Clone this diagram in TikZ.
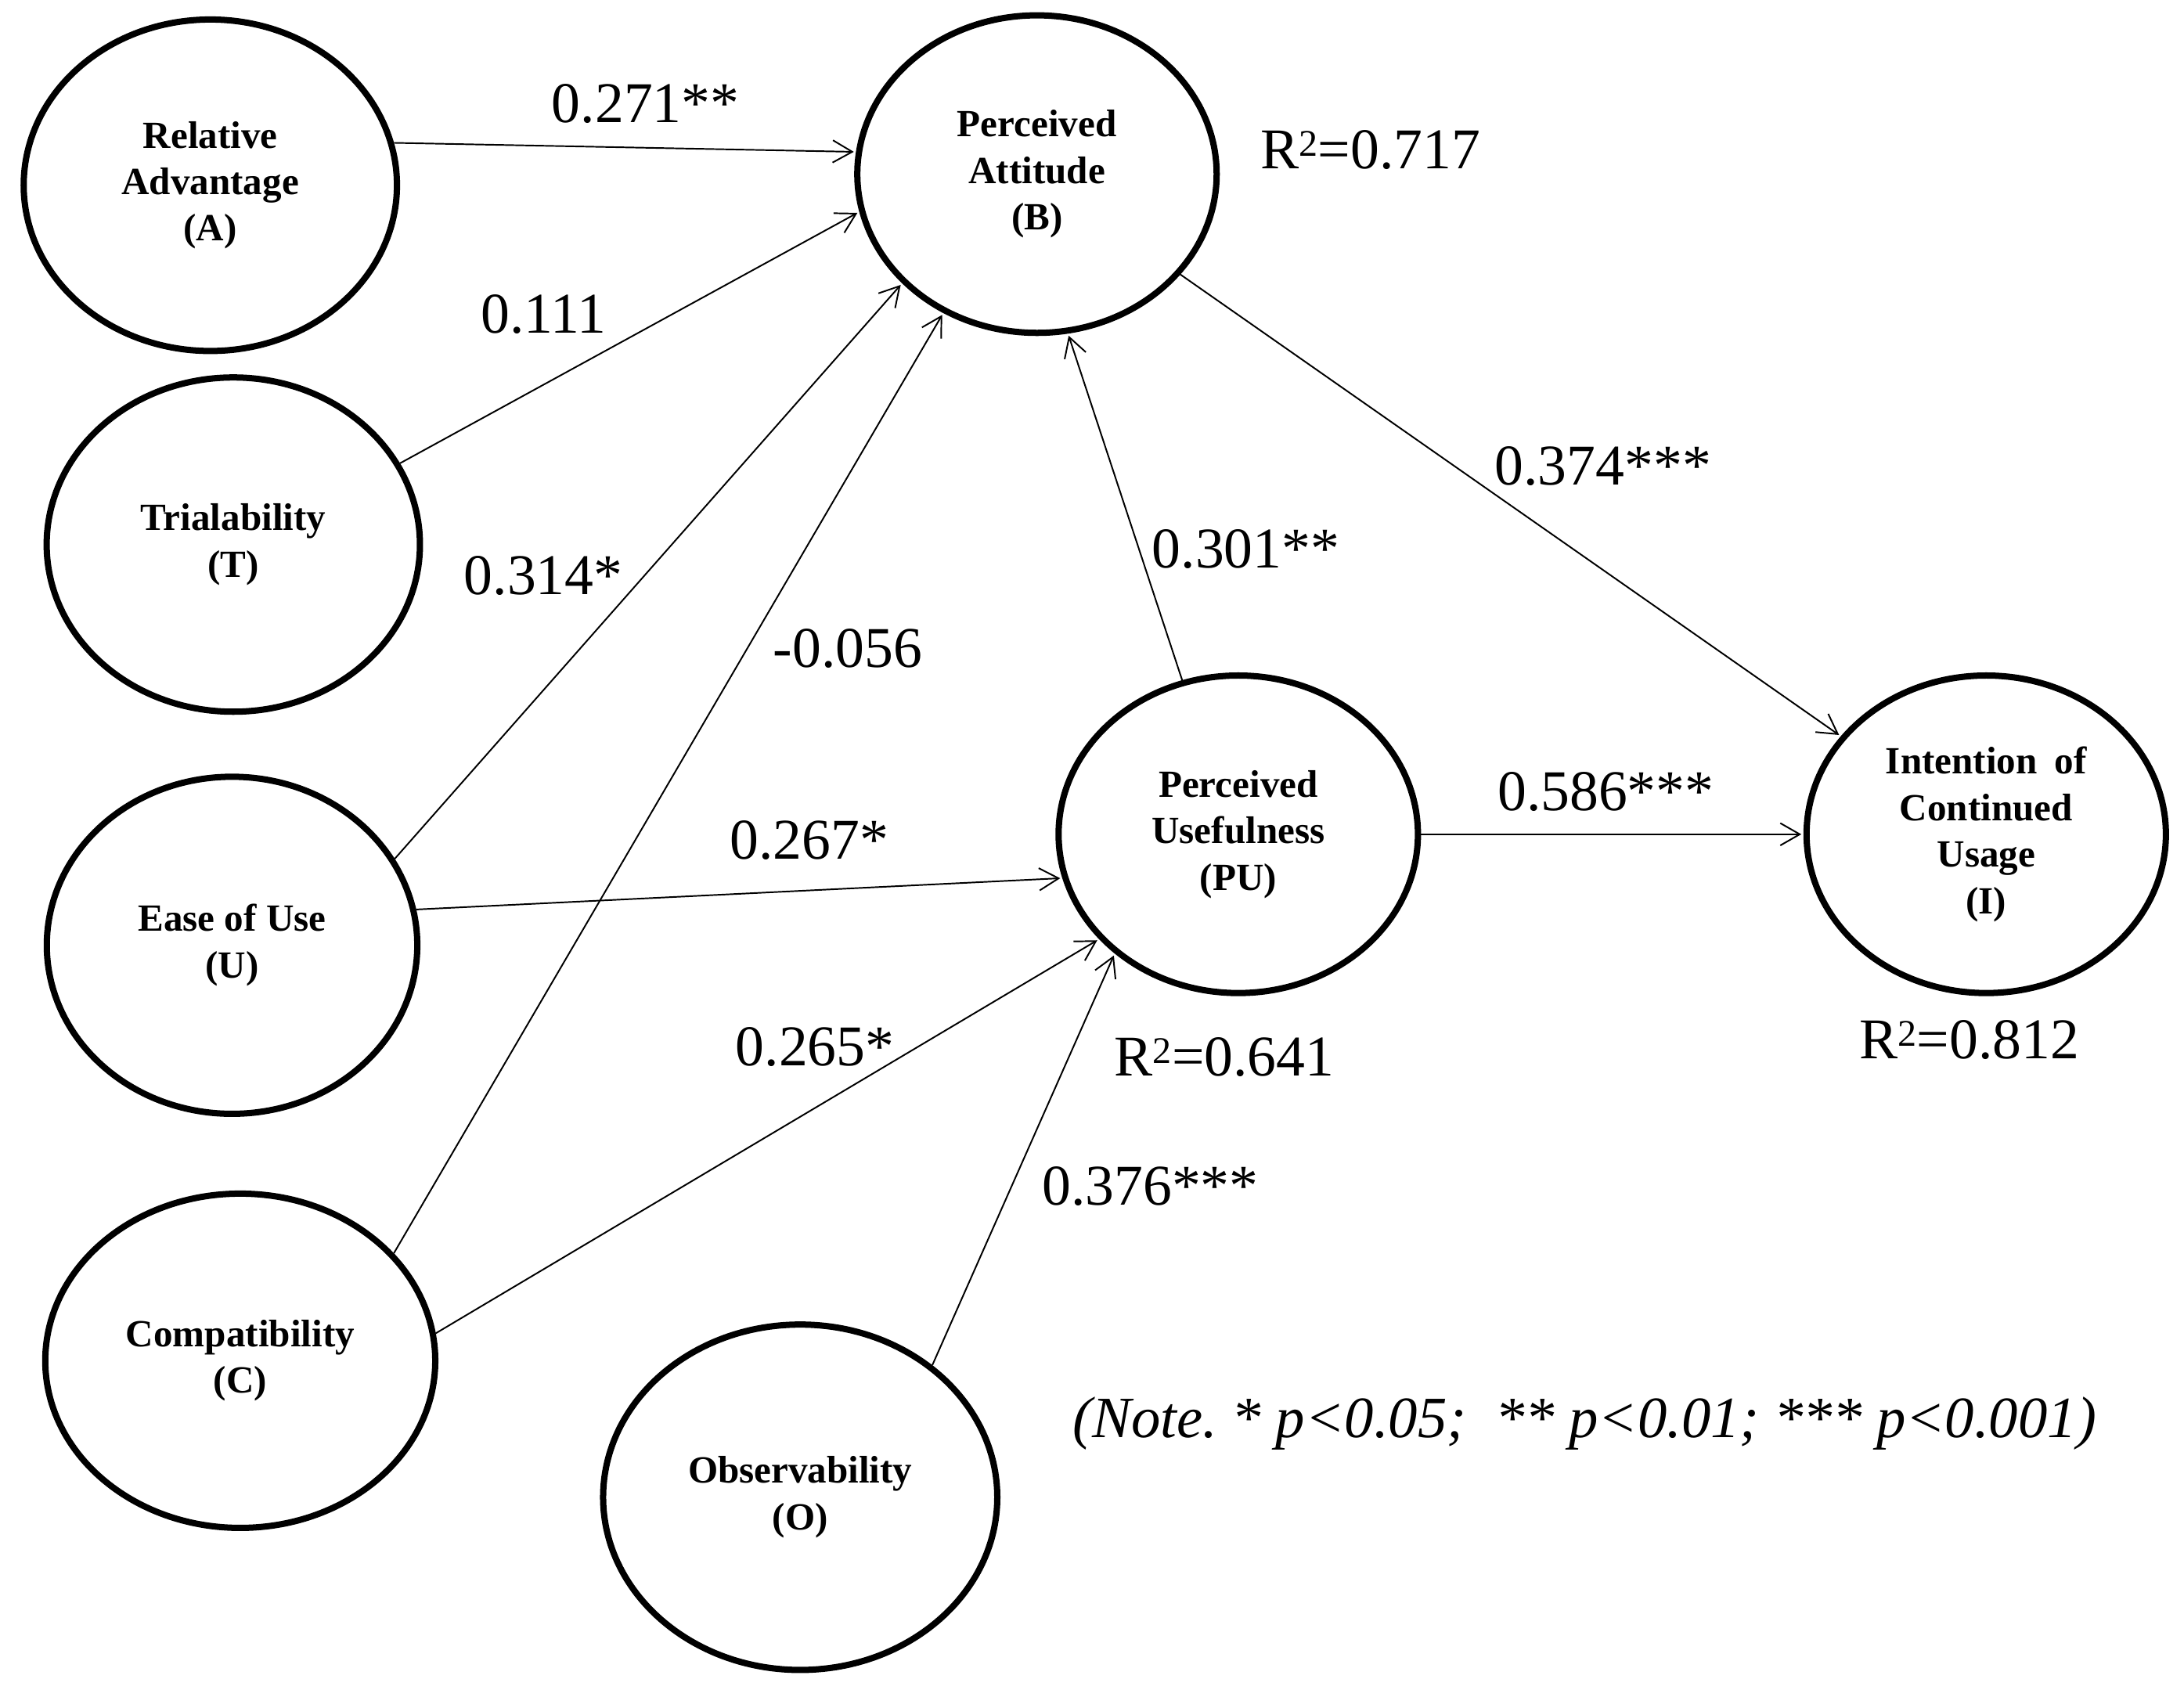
\documentclass[tikz,border=0pt]{standalone}
\usepackage{fontspec}
\setmainfont{Liberation Serif}
\usetikzlibrary{shapes.geometric,arrows.meta}
\newcommand{\rsq}[1]{R\raisebox{9pt}{\fontsize{27}{27}\selectfont 2}=#1}
\frenchspacing
\begin{document}
\begin{tikzpicture}[x=1pt,y=-1pt,
  construct/.style={draw=black, line width=4.5pt, ellipse, inner sep=0pt, align=center,
    font=\bfseries\fontsize{27.6}{33.4}\selectfont},
  conn/.style={draw=black, line width=1.1pt,
    -{Straight Barb[length=14pt,width=16pt]}, shorten >=1.5pt},
  coef/.style={font=\fontsize{41.4}{48}\selectfont, inner sep=0pt, anchor=base west},
  notetext/.style={font=\itshape\fontsize{42}{48}\selectfont, inner sep=0pt, anchor=base west}
]
\useasboundingbox (0,0) rectangle (1568,1218);

% constructs
\node[construct, minimum width=268pt, minimum height=238pt] (A) at (151,133) {Relative\\Advantage\\(A)};
\node[construct, minimum width=268pt, minimum height=240pt] (T) at (167.5,391) {Trialability\\(T)};
\node[construct, minimum width=266pt, minimum height=242pt] (U) at (166.6,678.7) {Ease of Use\\(U)};
\node[construct, minimum width=280pt, minimum height=240pt] (C) at (172.5,977) {Compatibility\\(C)};
\node[construct, minimum width=283pt, minimum height=248pt] (O) at (574.5,1075) {Observability\\(O)};
\node[construct, minimum width=258pt, minimum height=228pt] (B) at (744.5,125) {Perceived\\Attitude\\(B)};
\node[construct, minimum width=258pt, minimum height=228pt] (PU) at (889,599) {Perceived\\Usefulness\\(PU)};
\node[construct, minimum width=258pt, minimum height=228pt] (I) at (1426,599) {Intention\hspace{0.45em}of\\Continued\\Usage\\(I)};

% paths
\draw[conn] (A.13.3) -- (B.173.4);
\draw[conn] (T.26.9) -- (B.192.6);
\draw[conn] (U.28.1) -- (B.219.8);
\draw[conn] (C.35.7) -- (B.236.9);
\draw[conn] (PU.110.1) -- (B.281.6);
\draw[conn] (B.-35.8) -- (I.146.7);
\draw[conn] (U.11.4) -- (PU.194.2);
\draw[conn] (C.8.6) -- (PU.217);
\draw[conn] (O.45.8) -- (PU.224.5);
\draw[conn] (PU.0) -- (I.180);

% coefficients
\node[coef] (l271) at (396,88) {0.271**};
\node[coef] (l111) at (345,239) {0.111};
\node[coef] (l314) at (333,427) {0.314*};
\node[coef] (l056) at (555,479) {-0.056};
\node[coef] (l267) at (524,617) {0.267*};
\node[coef] (l265) at (528,765) {0.265*};
\node[coef] (l376) at (748,865) {0.376***};
\node[coef] (l301) at (827,408) {0.301**};
\node[coef] (l374) at (1073,348) {0.374***};
\node[coef] (l586) at (1075,582) {0.586***};

% R squared
\node[coef] (r717) at (905,121) {\rsq{0.717}};
\node[coef] (r641) at (800,772.5) {\rsq{0.641}};
\node[coef] (r812) at (1335,760) {\rsq{0.812}};

% note
\node[notetext] (note) at (770,1032) {(Note. * p<0.05;\ \ ** p<0.01; *** p<0.001)};
\end{tikzpicture}
\end{document}
